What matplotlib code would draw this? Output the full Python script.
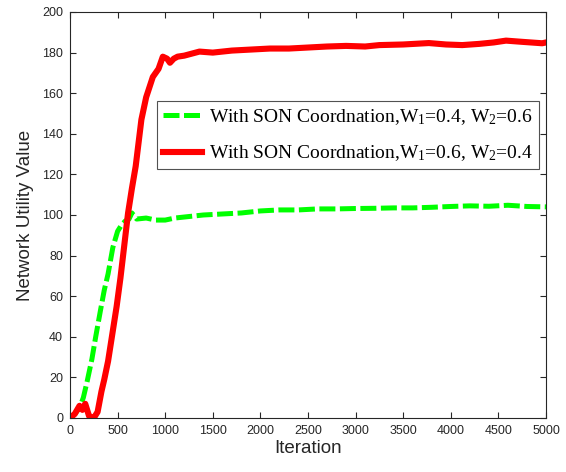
import matplotlib
matplotlib.use("Agg")
import matplotlib.pyplot as plt

# Network utility vs. iteration for two weight settings
iter_green = [0, 50, 100, 140, 180, 230, 270, 320, 360, 400, 450, 500, 540, 580, 620, 650,
              700, 800, 900, 1000, 1100, 1200, 1400, 1600, 1800, 2000, 2200, 2400, 2600,
              2800, 3000, 3200, 3400, 3600, 3800, 4000, 4200, 4400, 4600, 4800, 5000]
util_green = [0, 2, 5, 10, 18, 29, 40, 53, 63, 71, 84, 92, 95, 97, 98, 101,
              98, 98.5, 97.5, 97.5, 98.5, 99, 100, 100.5, 101, 102, 102.5, 102.5, 103,
              103, 103.2, 103.3, 103.5, 103.5, 103.8, 104.2, 104.5, 104.3, 104.8, 104.2, 104]

iter_red = [0, 50, 100, 130, 160, 200, 250, 290, 330, 360, 400, 450, 490, 530, 570, 610,
            650, 690, 750, 800, 870, 930, 975, 1020, 1050, 1090, 1130, 1200, 1360, 1500,
            1700, 1900, 2100, 2300, 2500, 2700, 2900, 3100, 3250, 3500, 3770, 3950, 4120,
            4300, 4450, 4580, 4750, 4900, 4960, 5000]
util_red = [0, 2, 6, 4, 7, 1, 0, 3, 13, 19, 28, 43, 55, 69, 85, 101,
            113, 124, 147, 158, 168, 172, 178, 177, 175, 177, 178, 178.5, 180.5, 180,
            181, 181.5, 182, 182, 182.5, 183, 183.3, 183, 183.7, 184, 184.7, 184, 183.7,
            184.3, 185, 185.9, 185.3, 184.8, 184.6, 185]

label_green = r"With SON Coordnation,W$_1$=0.4, W$_2$=0.6"
label_red = r"With SON Coordnation,W$_1$=0.6, W$_2$=0.4"

x_ticks = [0, 500, 1000, 1500, 2000, 2500, 3000, 3500, 4000, 4500, 5000]
y_ticks = [0, 20, 40, 60, 80, 100, 120, 140, 160, 180, 200]

plt.rcParams["mathtext.fontset"] = "custom"
plt.rcParams["mathtext.rm"] = "Liberation Serif"
plt.rcParams["mathtext.it"] = "Liberation Serif"

fig = plt.figure(figsize=(5.66, 4.72), dpi=100)
ax = fig.add_axes([70 / 566, 1 - 418 / 472, 476 / 566, 406 / 472])

ax.plot(iter_green, util_green, color="#00ff00", lw=3.6, ls=(0, (3.2, 0.9)),
        label=label_green, solid_capstyle="butt", dash_capstyle="butt")
ax.plot(iter_red, util_red, color="#ff0000", lw=4.4, label=label_red,
        solid_joinstyle="round")

ax.set_xlim(0, 5000)
ax.set_ylim(0, 200)
ax.set_xticks(x_ticks)
ax.set_yticks(y_ticks)

axis_color = "#262626"
for s in ax.spines.values():
    s.set_color(axis_color)
    s.set_linewidth(0.8)
ax.tick_params(direction="in", top=True, right=True, length=4, width=0.8,
               colors=axis_color, labelsize=9, pad=5)
for lab in ax.get_xticklabels() + ax.get_yticklabels():
    lab.set_fontfamily("Liberation Sans")

ax.set_xlabel("Iteration", fontfamily="Liberation Sans", fontsize=13.5,
              color=axis_color, labelpad=2)
ax.set_ylabel("Network Utility Value", fontfamily="Liberation Sans", fontsize=13.5,
              color=axis_color, labelpad=6)

leg = ax.legend(loc="upper left", bbox_to_anchor=(0.183, 0.78),
                prop={"family": "Liberation Serif", "size": 14},
                frameon=True, fancybox=False, edgecolor="#262626",
                handlelength=2.0, handletextpad=0.35, borderpad=0.3,
                labelspacing=0.85, borderaxespad=0)
leg.get_frame().set_linewidth(0.8)

fig.savefig("out.png", dpi=100)
